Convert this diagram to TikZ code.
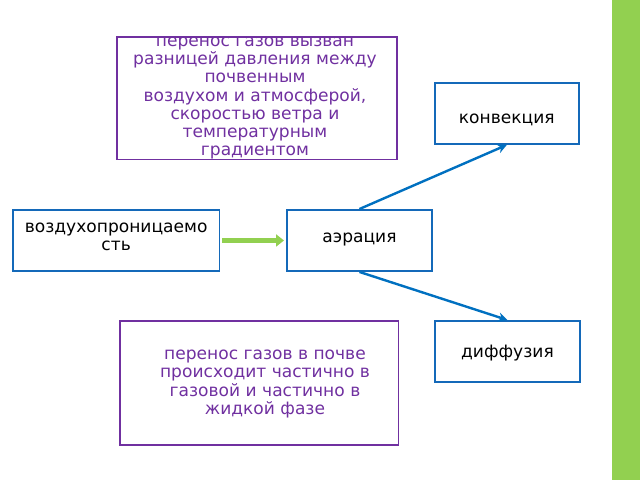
\documentclass[tikz,border=0pt]{standalone}
\usepackage{fontspec}
\setmainfont{DejaVu Sans}
\usetikzlibrary{positioning, calc, arrows.meta}
\definecolor{boxblue}{RGB}{20,105,185}
\definecolor{arrowblue}{RGB}{0,112,192}
\definecolor{textpurple}{RGB}{112,48,160}
\definecolor{barpurple}{RGB}{112,48,160}
\definecolor{bargreen}{RGB}{146,208,80}
\begin{document}
\begin{tikzpicture}[x=0.75pt,y=-0.75pt,font=\fontsize{12.8}{13.6}\selectfont]

    \tikzstyle{bluebox} = [draw=boxblue, line width=1.2pt, anchor=north west, inner sep=0];
    \tikzstyle{purplebox} = [draw=barpurple, line width=1.2pt, anchor=north west, inner sep=0];
    \tikzstyle{arrow} = [arrowblue, line width=1.8pt, -{Stealth[length=7pt,width=7pt]}];

    \useasboundingbox (0,0) rectangle (640,480);
    \fill[bargreen] (612,0) rectangle (640,480);

    % Boxes
    \node[purplebox, minimum width=210pt, minimum height=92pt] (GAS) at (116,36) {};
    \node[text=textpurple, align=center] (GAST) at (255,98) {перенос газов вызван\\разницей давления между\\почвенным\\воздухом и атмосферой,\\скоростью ветра и\\температурным\\градиентом};

    \node[bluebox, minimum width=108pt, minimum height=46pt] (CONV) at (434,82) {};
    \node (CONVT) at ($(CONV.center)+(0,6)$) {конвекция};

    \node[bluebox, minimum width=155pt, minimum height=46pt] (PERM) at (12,209) {};
    \node[align=center, anchor=north] (PERMT) at ($(PERM.north)+(0,9)$) {воздухопроницаемо\\сть};

    \node[bluebox, minimum width=109pt, minimum height=46pt] (AER) at (286,209) {};
    \node (AERT) at ($(AER.center)+(0,-1)$) {аэрация};

    \node[bluebox, minimum width=109pt, minimum height=46pt] (DIFF) at (434,320) {};
    \node (DIFFT) at ($(DIFF.center)+(0,2)$) {диффузия};

    \node[purplebox, minimum width=209pt, minimum height=93pt] (LIQ) at (119,320) {};
    \node[text=textpurple, align=center] (LIQT) at (265,384) {перенос газов в почве\\происходит частично в\\газовой и частично в\\жидкой фазе};

    % Arrows
    \draw[bargreen, line width=4pt, -{Triangle[length=6pt,width=9pt]}] ($(PERM.east)+(2,0)$) -- ($(AER.west)+(-2,0)$);
    \draw[arrow] (AER.north) -- (CONV.south);
    \draw[arrow] (AER.south) -- (DIFF.north);

\end{tikzpicture}
\end{document}
